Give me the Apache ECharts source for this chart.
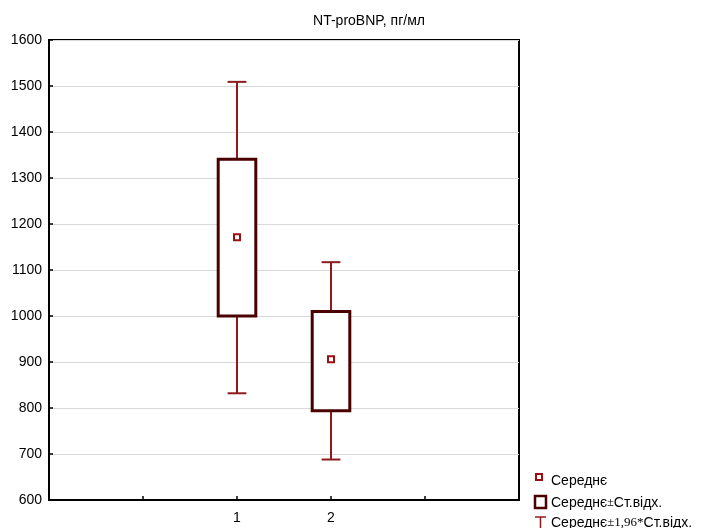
<!DOCTYPE html>
<html>
<head>
<meta charset="utf-8">
<script src="https://cdn.jsdelivr.net/npm/echarts@6/dist/echarts.min.js"></script>
<style>html,body{margin:0;padding:0;background:#fff}#c{width:712px;height:528px}</style>
</head>
<body>
<div id="c"></div>
<script>
// Data
const categories = [1, 2];
const means = [1171, 906];
const sdLow = [1000, 794];
const sdHigh = [1341, 1010];
const ciLow = [832, 688];
const ciHigh = [1509, 1117];
const yTicks = [600, 700, 800, 900, 1000, 1100, 1200, 1300, 1400, 1500, 1600];

const FONT = 'Liberation Sans';
const chart = echarts.init(document.getElementById('c'), null, {renderer: 'canvas'});

const boxData = categories.map((c, i) => [c, sdLow[i], sdHigh[i]]);
const whiskerData = categories.map((c, i) => [c, ciLow[i], ciHigh[i]]);
const meanData = categories.map((c, i) => [c, means[i]]);

chart.setOption({
  animation: false,
  backgroundColor: '#fff',
  title: {
    text: 'NT-proBNP, пг/мл',
    left: 364, top: 9, textAlign: 'center',
    textStyle: {fontFamily: FONT, fontSize: 14, fontWeight: 'normal', color: '#000'}
  },
  grid: {left: 49, top: 40, width: 470, height: 460, show: true, borderColor: '#000', borderWidth: 2, backgroundColor: 'transparent'},
  xAxis: {
    type: 'value', min: -1, max: 4, interval: 1,
    axisLine: {onZero: false, lineStyle: {color: '#000', width: 2}},
    axisTick: {inside: true, length: 4, lineStyle: {color: '#000', width: 1.5}},
    splitLine: {show: false},
    axisLabel: {
      margin: 11, color: '#000', fontFamily: FONT, fontSize: 14,
      formatter: v => categories.indexOf(v) >= 0 ? String(v) : ''
    }
  },
  yAxis: {
    type: 'value', min: yTicks[0], max: yTicks[yTicks.length - 1], interval: 100,
    axisLine: {onZero: false, lineStyle: {color: '#000', width: 2}},
    axisTick: {inside: true, length: 4, lineStyle: {color: '#000', width: 1.5}},
    splitLine: {lineStyle: {color: '#d9d9d9', width: 1}},
    axisLabel: {margin: 7, color: '#000', fontFamily: FONT, fontSize: 14, formatter: v => String(v)}
  },
  series: [
    {
      type: 'custom', name: 'Середнє±1,96*Ст.відх.', z: 2,
      data: whiskerData,
      renderItem: (params, api) => {
        const x = api.value(0);
        const lo = api.coord([x, api.value(1)]);
        const hi = api.coord([x, api.value(2)]);
        const cw = api.size([0.2, 0])[0];
        const st = {stroke: '#8e1b1b', lineWidth: 2};
        return {type: 'group', children: [
          {type: 'line', shape: {x1: lo[0], y1: lo[1], x2: hi[0], y2: hi[1]}, style: st},
          {type: 'line', shape: {x1: hi[0] - cw / 2, y1: hi[1], x2: hi[0] + cw / 2, y2: hi[1]}, style: st},
          {type: 'line', shape: {x1: lo[0] - cw / 2, y1: lo[1], x2: lo[0] + cw / 2, y2: lo[1]}, style: st}
        ]};
      }
    },
    {
      type: 'custom', name: 'Середнє±Ст.відх.', z: 3,
      data: boxData,
      renderItem: (params, api) => {
        const x = api.value(0);
        const lo = api.coord([x, api.value(1)]);
        const hi = api.coord([x, api.value(2)]);
        const w = api.size([0.4, 0])[0];
        return {type: 'rect', shape: {x: hi[0] - w / 2, y: hi[1], width: w, height: lo[1] - hi[1]},
          style: {fill: '#fff', stroke: '#4a0000', lineWidth: 3}};
      }
    },
    {
      type: 'scatter', name: 'Середнє', z: 4,
      data: meanData, symbol: 'rect', symbolSize: 6,
      itemStyle: {color: '#fff', borderColor: '#9a1010', borderWidth: 2, opacity: 1}
    }
  ],
  graphic: [
    {type: 'rect', shape: {x: 536, y: 474, width: 6, height: 6}, style: {fill: '#fff', stroke: '#9a1010', lineWidth: 2}},
    {type: 'text', left: 551, top: 474, style: {text: 'Середнє', fontFamily: FONT, fontSize: 14, fill: '#000'}},
    {type: 'rect', shape: {x: 535, y: 496, width: 11, height: 12}, style: {fill: '#fff', stroke: '#4a0000', lineWidth: 2.5}},
    {type: 'text', left: 551, top: 496, style: {
      text: '{a|Середнє}{b|±}{a|Ст.відх.}',
      rich: {a: {fontFamily: FONT, fontSize: 14, fill: '#000'}, b: {fontFamily: 'Liberation Serif', fontSize: 12, fill: '#000'}}
    }},
    {type: 'line', shape: {x1: 535, y1: 517, x2: 546, y2: 517}, style: {stroke: '#8e1b1b', lineWidth: 1.5}},
    {type: 'line', shape: {x1: 540.5, y1: 517, x2: 540.5, y2: 530}, style: {stroke: '#8e1b1b', lineWidth: 1.5}},
    {type: 'text', left: 551, top: 516, style: {
      text: '{a|Середнє}{b|±1,96*}{a|Ст.відх.}',
      rich: {a: {fontFamily: FONT, fontSize: 14, fill: '#000'}, b: {fontFamily: 'Liberation Serif', fontSize: 13, fill: '#000'}}
    }}
  ]
});
</script>
</body>
</html>
